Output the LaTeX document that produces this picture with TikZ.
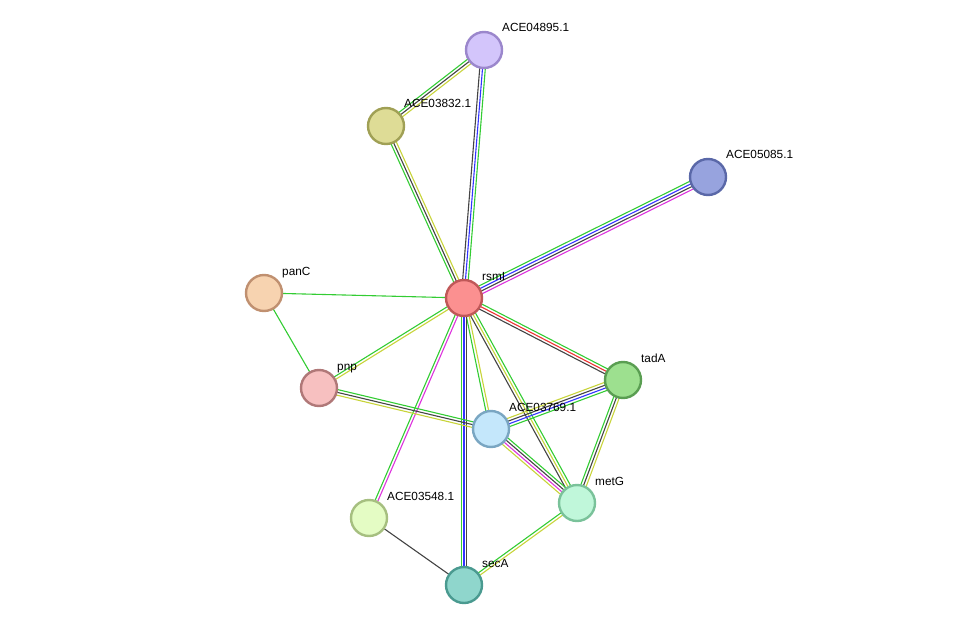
\documentclass[tikz,border=0pt]{standalone}
\usepackage{fontspec}
\setmainfont{Liberation Sans}
\usetikzlibrary{calc,backgrounds}
\definecolor{eg}{HTML}{33CC33}\definecolor{eb}{HTML}{3333FF}\definecolor{ek}{HTML}{444444}
\definecolor{ey}{HTML}{C8D43A}\definecolor{em}{HTML}{DD33DD}\definecolor{er}{HTML}{EE3333}
\definecolor{b1}{HTML}{9B87CC}\definecolor{f1}{HTML}{D3C5FB}
\definecolor{b2}{HTML}{A0A055}\definecolor{f2}{HTML}{DEDC96}
\definecolor{b3}{HTML}{5A68A8}\definecolor{f3}{HTML}{97A3DE}
\definecolor{b4}{HTML}{C05858}\definecolor{f4}{HTML}{FB9090}
\definecolor{b5}{HTML}{C09070}\definecolor{f5}{HTML}{F7D3B0}
\definecolor{b6}{HTML}{B07878}\definecolor{f6}{HTML}{F7C0C0}
\definecolor{b7}{HTML}{5A9E52}\definecolor{f7}{HTML}{9DE08F}
\definecolor{b8}{HTML}{7AA6C2}\definecolor{f8}{HTML}{C4E7FB}
\definecolor{b9}{HTML}{7AC29A}\definecolor{f9}{HTML}{C0F7DA}
\definecolor{b10}{HTML}{A6BF80}\definecolor{f10}{HTML}{E4FCC4}
\definecolor{b11}{HTML}{4A9A90}\definecolor{f11}{HTML}{8FD6CC}
\newcommand{\medge}[3]{%
  \foreach \c [count=\i] in {#3} {\global\let\nn\i}%
  \foreach \c [count=\i] in {#3} {%
    \pgfmathsetmacro{\off}{(\i-(\nn+1)/2)*2.8}%
    \draw[\c,line width=1.1pt] ($(#1.center)!\off pt!90:(#2.center)$) -- ($(#2.center)!\off pt!-90:(#1.center)$);
  }}
\tikzset{prot/.style={circle,minimum size=36pt,inner sep=0,line width=2.4pt,draw=b#1,fill=f#1},
  lab/.style={font=\fontsize{11.8pt}{12pt}\selectfont}}
\begin{document}
\begin{tikzpicture}[x=1pt,y=-1pt]
\useasboundingbox (0,0) rectangle (976,631);
\node[prot=1] (n4895) at (484,50) {};
\node[prot=2] (n3832) at (386,126) {};
\node[prot=3] (n5085) at (708,177) {};
\node[prot=4] (rsmI) at (464,298) {};
\node[prot=5] (panC) at (264,293) {};
\node[prot=6] (pnp) at (319,388) {};
\node[prot=7] (tadA) at (623,380) {};
\node[prot=8] (n3769) at (491,429) {};
\node[prot=9] (metG) at (577,503) {};
\node[prot=10] (n3548) at (369,518) {};
\node[prot=11] (secA) at (464,585) {};
\foreach \n/\t in {n4895/ACE04895.1,n3832/ACE03832.1,n5085/ACE05085.1,rsmI/rsmI,panC/panC,pnp/pnp,tadA/tadA,n3769/ACE03769.1,metG/metG,n3548/ACE03548.1,secA/secA}
  \node[lab,anchor=base west,inner sep=0] (l\n) at ($(\n)+(18,-18)$) {\t};
\begin{scope}[on background layer]
\medge{rsmI}{n4895}{eg,eb,ek}
\medge{rsmI}{n3832}{ey,ek,eg}
\medge{n3832}{n4895}{ey,ek,eg}
\medge{rsmI}{n5085}{em,ek,eb,eg}
\medge{rsmI}{panC}{eg}
\medge{panC}{pnp}{eg}
\medge{rsmI}{pnp}{eg,ey}
\medge{rsmI}{tadA}{ek,er,eg}
\medge{rsmI}{n3769}{eg,ey}
\medge{rsmI}{metG}{ek,ey,eg}
\medge{rsmI}{secA}{eg,eb,ek}
\medge{rsmI}{n3548}{eg,em}
\medge{pnp}{n3769}{ey,ek,eg}
\medge{n3769}{tadA}{eg,eb,ek,ey}
\medge{n3769}{metG}{ey,em,ek,eg}
\medge{tadA}{metG}{eg,ek,ey}
\medge{metG}{secA}{eg,ey}
\medge{n3548}{secA}{ek}
\end{scope}
\end{tikzpicture}
\end{document}
